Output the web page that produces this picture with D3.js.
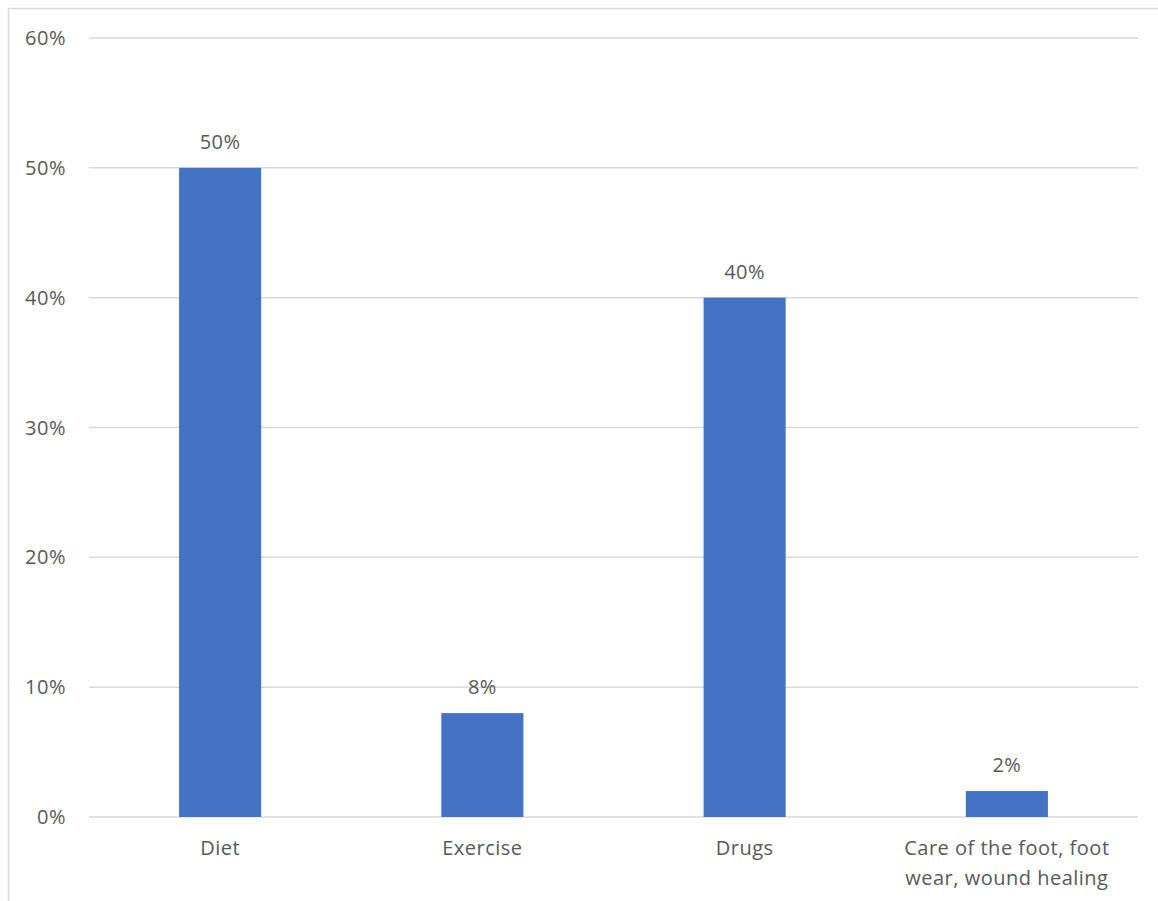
<!DOCTYPE html>
<html>
<head>
<meta charset="utf-8">
<script src="https://cdn.jsdelivr.net/npm/d3@7"></script>
<style>
    body { margin: 0; background: #fff; }
    text { font-family: "Open Sans", sans-serif; fill: #595959; font-size: 20px; letter-spacing: 0.5px; }
</style>
</head>
<body>
<svg width="1158" height="901"></svg>
<script>
var categories = ["Diet", "Exercise", "Drugs", "Care of the foot, foot|wear, wound healing"];
var values = [0.50, 0.08, 0.40, 0.02];
var yTicks = [0, 0.1, 0.2, 0.3, 0.4, 0.5, 0.6];

var svg = d3.select("svg");
var plotLeft = 89, plotRight = 1138, plotTop = 38, plotBottom = 817;

// chart border (only left and top visible in the crop)
svg.append("rect")
    .attr("x", 8.5).attr("y", 8.5)
    .attr("width", 1200).attr("height", 1000)
    .attr("fill", "none")
    .attr("stroke", "#d9d9d9")
    .attr("stroke-width", 1.5);

var x = d3.scaleBand()
    .domain(categories)
    .range([plotLeft, plotRight])
    .paddingInner(0.687)
    .paddingOuter(0.3435);

var y = d3.scaleLinear()
    .domain([0, 0.6])
    .range([plotBottom, plotTop]);

// gridlines
svg.append("g")
    .selectAll("line")
    .data(yTicks)
    .enter().append("line")
    .attr("x1", plotLeft).attr("x2", plotRight)
    .attr("y1", function (d) { return y(d); })
    .attr("y2", function (d) { return y(d); })
    .attr("stroke", "#d9d9d9")
    .attr("stroke-width", 1.5);

// y tick labels
svg.append("g")
    .selectAll("text")
    .data(yTicks)
    .enter().append("text")
    .attr("x", 66)
    .attr("y", function (d) { return y(d); })
    .attr("dy", "0.35em")
    .attr("text-anchor", "end")
    .text(d3.format(".0%"));

// bars
svg.append("g")
    .selectAll("rect")
    .data(values)
    .enter().append("rect")
    .attr("x", function (d, i) { return x(categories[i]); })
    .attr("y", function (d) { return y(d); })
    .attr("width", x.bandwidth())
    .attr("height", function (d) { return plotBottom - y(d); })
    .attr("fill", "#4472c4");

// value labels
svg.append("g")
    .selectAll("text")
    .data(values)
    .enter().append("text")
    .attr("x", function (d, i) { return x(categories[i]) + x.bandwidth() / 2; })
    .attr("y", function (d) { return y(d) - 19; })
    .attr("text-anchor", "middle")
    .text(d3.format(".0%"));

// category labels
var cat = svg.append("g")
    .selectAll("text")
    .data(categories)
    .enter().append("text")
    .attr("x", function (d) { return x(d) + x.bandwidth() / 2; })
    .attr("y", 855)
    .attr("text-anchor", "middle");
cat.selectAll("tspan")
    .data(function (d) { return d.split("|"); })
    .enter().append("tspan")
    .attr("x", function () { return d3.select(this.parentNode).attr("x"); })
    .attr("dy", function (d, i) { return i ? 30 : 0; })
    .text(function (d) { return d; });
</script>
</body>
</html>
